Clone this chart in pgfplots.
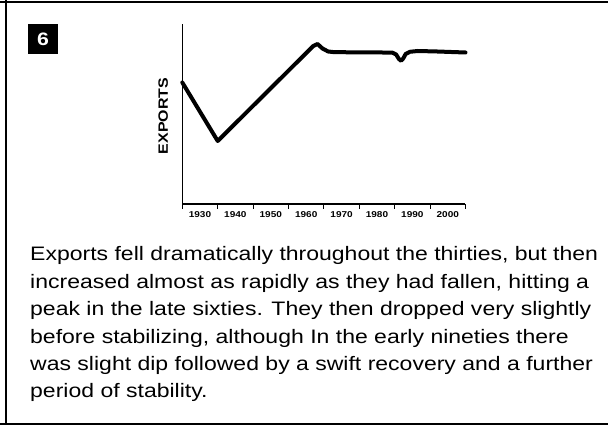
\documentclass[border=0pt]{standalone}
\usepackage{fontspec}
\setmainfont{Liberation Sans}[FakeStretch=1.18]
\usepackage{pgfplots}
\pgfplotsset{compat=1.18}
\begin{document}
\begin{tikzpicture}[x=1pt,y=1pt]
\path[use as bounding box] (0,0) rectangle (608,426);
% frame
\draw[line width=2pt] (0,424) -- (608,424);
\draw[line width=2pt] (5.5,2) -- (5.5,426);
\draw[line width=2pt] (0,2) -- (608,2);
% number box
\node[fill=black, minimum size=30pt, inner sep=0pt, text=white, font=\fontsize{18}{20}\selectfont\bfseries] at (43,387) {6};
\begin{axis}[
  at={(182.3pt,222pt)}, anchor=south west,
  scale only axis, width=283.2pt, height=180pt,
  xmin=1930, xmax=2010, ymin=0, ymax=180,
  axis lines=left, axis line style={-, line width=1.4pt},
  xtick={1930,1940,...,2010}, xticklabels={},
  ytick=\empty,
  tick align=outside, major tick length=5pt,
  tick style={line width=1pt, black},
  extra x ticks={1935,1945,...,2005},
  extra x tick labels={\textbf{1930},\textbf{1940},\textbf{1950},\textbf{1960},\textbf{1970},\textbf{1980},\textbf{1990},\textbf{2000}},
  extra x tick style={major tick length=0pt, xticklabel style={yshift=-4.5pt}},
  xticklabel style={font=\fontsize{8.5}{10}\selectfont},
  ylabel={\textbf{EXPORTS}},
  ylabel style={at={(axis description cs:-0.067,0.489)}, anchor=center, font=\fontsize{13.5}{14}\selectfont},
  clip=false,
]
\addplot[black, line width=4pt, line join=round, line cap=round] coordinates {
(1930,121.5) (1940,63) (1967,158) (1968.2,160) (1969.6,155.5) (1971.2,152.5) (1973,151.8)
(1985,151.6) (1989.4,151.3) (1990.4,149.5) (1991.2,145) (1991.8,143.2) (1992.4,145.5) (1993.1,150)
(1994.3,152.2) (1996.5,153) (2002,152.5) (2010,151.5)
};
\end{axis}
\begin{scope}[every node/.style={anchor=base west, inner sep=0pt, font=\fontsize{19.5}{23}\selectfont}]
\node at (30,426-261) {Exports fell dramatically throughout the thirties, but then};
\node at (30,426-288.4) {increased almost as rapidly as they had fallen, hitting a};
\node at (30,426-315.8) {peak in the late sixties. They then dropped very slightly};
\node at (30,426-343.2) {before stabilizing, although In the early nineties there};
\node at (30,426-370.6) {was slight dip followed by a swift recovery and a further};
\node at (30,426-398) {period of stability.};
\end{scope}
\end{tikzpicture}
\end{document}
